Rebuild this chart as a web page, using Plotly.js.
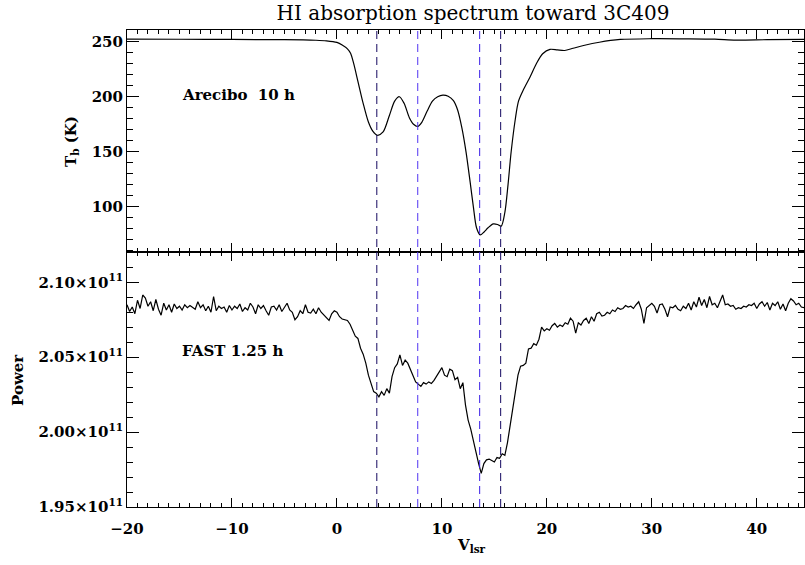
<!DOCTYPE html>
<html>
<head>
<meta charset="utf-8">
<script src="https://cdn.plot.ly/plotly-3.0.1.min.js"></script>
<style>html,body{margin:0;padding:0;background:#fff;}#chart{width:805px;height:565px;}</style>
</head>
<body>
<div id="chart"></div>
<script>
// ---- Data ----
// Arecibo spectrum (top panel): velocity (km/s) and brightness temperature (K)
const arecV = [-20, -15, -10, -5, -2, -1, 0, 0.5, 1.0, 1.3, 1.6, 2.0, 2.5, 3.0, 3.4, 3.85, 4.4, 5.0, 5.5, 5.95,
  6.4, 6.9, 7.3, 7.7, 8.1, 8.6, 9.1, 9.6, 10.1, 10.6, 11.1, 11.5, 11.9, 12.3, 12.7, 13.0, 13.3, 13.65, 14.0, 14.4,
  14.9, 15.3, 15.65, 16.0, 16.3, 16.6, 17.0, 17.3, 17.8, 18.4, 19.0, 19.6, 20.3, 21.0, 21.7, 22.5, 23.5, 25.0, 27.0, 30.0,
  33.0, 36.0, 38.0, 41.0, 44.5];
const arecTb = [252.3, 252.2, 252.0, 251.8, 251.3, 250.8, 249.3, 247, 243.5, 239.5, 230, 214, 194, 177, 169, 165, 168, 183, 196, 200,
  194, 181, 175, 173, 177, 187, 196, 200, 201.5, 200.5, 196.5, 188, 172, 150, 122, 100, 81, 74.5, 77, 81,
  84.5, 84, 82.5, 95, 120, 150, 180, 196, 207, 218, 230, 239, 243, 242.5, 242, 244, 246.5, 249.5, 252, 252.7,
  252.6, 252.3, 251.4, 251.8, 252];

// FAST spectrum (bottom panel): channels start at V0 with spacing DV; power in units of 1e11
const fastV0 = -20, fastDV = 0.25;
const fastPowerE11 = [
  // -20 .. -10.25
  2.0850, 2.0805, 2.0835, 2.0790, 2.0880, 2.0825, 2.0915, 2.0895, 2.0840, 2.0870,
  2.0810, 2.0885, 2.0820, 2.0780, 2.0860, 2.0815, 2.0850, 2.0800, 2.0855, 2.0825,
  2.0840, 2.0815, 2.0850, 2.0830, 2.0845, 2.0835, 2.0820, 2.0870, 2.0830, 2.0850,
  2.0810, 2.0840, 2.0800, 2.0905, 2.0810, 2.0840, 2.0825, 2.0835, 2.0800, 2.0845,
  // -10 .. -0.25
  2.0815, 2.0840, 2.0825, 2.0855, 2.0805, 2.0830, 2.0815, 2.0860, 2.0835, 2.0790,
  2.0850, 2.0825, 2.0845, 2.0810, 2.0780, 2.0835, 2.0840, 2.0815, 2.0850, 2.0805,
  2.0830, 2.0860, 2.0815, 2.0800, 2.0750, 2.0770, 2.0810, 2.0790, 2.0850, 2.0800,
  2.0795, 2.0820, 2.0790, 2.0830, 2.0800, 2.0780, 2.0760, 2.0745, 2.0790, 2.0810,
  // 0 .. 9.75
  2.0800, 2.0770, 2.0755, 2.0750, 2.0745, 2.0720, 2.0680, 2.0640, 2.0625, 2.0560,
  2.0520, 2.0460, 2.0380, 2.0330, 2.0270, 2.0260, 2.0235, 2.0270, 2.0245, 2.0290,
  2.0260, 2.0370, 2.0430, 2.0455, 2.0515, 2.0445, 2.0480, 2.0460, 2.0420, 2.0370,
  2.0335, 2.0320, 2.0305, 2.0330, 2.0320, 2.0335, 2.0325, 2.0345, 2.0375, 2.0400,
  // 10 .. 19.75
  2.0430, 2.0380, 2.0370, 2.0420, 2.0410, 2.0350, 2.0365, 2.0290, 2.0330, 2.0180,
  2.0080, 2.0020, 1.9940, 1.9860, 1.9790, 1.9725, 1.9790, 1.9815, 1.9820, 1.9810,
  1.9800, 1.9830, 1.9825, 1.9855, 1.9845, 1.9930, 2.0040, 2.0170, 2.0290, 2.0380,
  2.0440, 2.0445, 2.0460, 2.0555, 2.0560, 2.0590, 2.0580, 2.0620, 2.0700, 2.0675,
  // 20 .. 29.75
  2.0690, 2.0680, 2.0710, 2.0725, 2.0700, 2.0715, 2.0705, 2.0730, 2.0720, 2.0760,
  2.0740, 2.0660, 2.0730, 2.0715, 2.0745, 2.0760, 2.0725, 2.0770, 2.0740, 2.0790,
  2.0800, 2.0775, 2.0780, 2.0800, 2.0790, 2.0815, 2.0805, 2.0830, 2.0820, 2.0825,
  2.0845, 2.0835, 2.0840, 2.0825, 2.0850, 2.0870, 2.0820, 2.0725, 2.0830, 2.0845,
  // 30 .. 44.5
  2.0860, 2.0840, 2.0795, 2.0850, 2.0855, 2.0820, 2.0770, 2.0835, 2.0830, 2.0845,
  2.0820, 2.0810, 2.0840, 2.0825, 2.0860, 2.0815, 2.0870, 2.0835, 2.0900, 2.0845,
  2.0885, 2.0830, 2.0905, 2.0850, 2.0860, 2.0830, 2.0870, 2.0915, 2.0850, 2.0855,
  2.0840, 2.0845, 2.0820, 2.0830, 2.0825, 2.0840, 2.0835, 2.0850, 2.0845, 2.0860,
  2.0825, 2.0855, 2.0870, 2.0840, 2.0865, 2.0815, 2.0860, 2.0845, 2.0870, 2.0820,
  2.0855, 2.0810, 2.0860, 2.0890, 2.0875, 2.0850, 2.0860, 2.0835, 2.0830
];

// Component velocities marked by dashed lines
const compV = [3.8, 7.7, 13.6, 15.6];
const compColors = ['#140860', '#5034f2', '#3a1ee6', '#140860'];

// Tick labels
const xTickVals = [-20, -10, 0, 10, 20, 30, 40];
const tbTickVals = [100, 150, 200, 250];
const powTickVals = [1.95, 2.00, 2.05, 2.10];
const powTickText = ['1.95×10<sup>11</sup>', '2.00×10<sup>11</sup>', '2.05×10<sup>11</sup>', '2.10×10<sup>11</sup>'];

// ---- Build ----
const fastV = fastPowerE11.map((_, i) => fastV0 + i * fastDV);
const fastPower = fastPowerE11.map(p => p * 1e11);

const FONT = 'DejaVu Serif, Liberation Serif, serif';
const PL = 127, PR = 804, PT = 30, PB = 507, SPLIT = 252;
const W = 805, H = 565;
const splitFrac = (PB - SPLIT) / (PB - PT);
const px2xp = px => (px - PL) / (PR - PL);
const py2yp = py => (PB - py) / (PB - PT);

const traces = [
  { x: arecV, y: arecTb, xaxis: 'x2', yaxis: 'y2', type: 'scatter', mode: 'lines',
    line: { color: '#000', width: 1.2, shape: 'spline', smoothing: 0.8 }, hoverinfo: 'skip' },
  { x: fastV, y: fastPower, xaxis: 'x', yaxis: 'y', type: 'scatter', mode: 'lines',
    line: { color: '#000', width: 1.2 }, hoverinfo: 'skip' }
];

const TICKFONT = { family: FONT, size: 15, color: '#000', weight: 'bold' };
const axBase = {
  showgrid: false, zeroline: false, showline: true, linecolor: '#000', linewidth: 1,
  ticks: 'inside', tickcolor: '#000', tickwidth: 1, mirror: 'allticks',
  tickfont: TICKFONT
};

const shapes = compV.map((v, i) => ({
  type: 'line', xref: 'x', yref: 'paper', x0: v, x1: v, y0: 0, y1: 1,
  line: { color: compColors[i], width: 1, dash: '8px,5px' }, layer: 'above'
}));

const ann = (text, x, y, opts) => Object.assign({
  text, xref: 'paper', yref: 'paper', x: px2xp(x), y: py2yp(y), showarrow: false,
  font: { family: FONT, size: 15, color: '#000', weight: 'bold' }
}, opts || {});

const layout = {
  width: W, height: H,
  margin: { l: PL, r: W - PR, t: PT, b: H - PB, pad: 0 },
  paper_bgcolor: '#fff', plot_bgcolor: '#fff',
  showlegend: false,
  title: { text: 'HI absorption spectrum toward 3C409', font: { family: FONT, size: 20, color: '#000' },
           x: 473 / W, xanchor: 'center', y: 1 - 13 / H, yanchor: 'middle' },
  xaxis: Object.assign({}, axBase, {
    range: [-20, 44.5], anchor: 'y', tickvals: xTickVals, ticklen: 9,
    minor: { dtick: 1, ticklen: 4, ticks: 'inside', tickcolor: '#000' },
    ticklabelstandoff: 8
  }),
  xaxis2: Object.assign({}, axBase, {
    range: [-20, 44.5], anchor: 'y2', matches: 'x', tickvals: xTickVals, ticklen: 9, showticklabels: false,
    minor: { dtick: 1, ticklen: 4, ticks: 'inside', tickcolor: '#000' }
  }),
  yaxis: Object.assign({}, axBase, {
    domain: [0, splitFrac], range: [1.95e11, 2.1202e11],
    tickvals: powTickVals.map(v => v * 1e11), ticktext: powTickText, ticklen: 12,
    minor: { dtick: 0.01e11, ticklen: 6, ticks: 'inside', tickcolor: '#000' }
  }),
  yaxis2: Object.assign({}, axBase, {
    domain: [splitFrac, 1], range: [59, 260.6], tickvals: tbTickVals, ticklen: 12,
    minor: { dtick: 10, ticklen: 6, ticks: 'inside', tickcolor: '#000' }
  }),
  shapes,
  annotations: [
    ann('Arecibo&nbsp;&nbsp;10 h', 180, 95, { xanchor: 'left', yanchor: 'middle' }),
    ann('FAST 1.25 h', 180, 351, { xanchor: 'left', yanchor: 'middle' }),
    ann('T<sub>b</sub> (K)', 71, 142, { textangle: -90, xanchor: 'center', yanchor: 'middle' }),
    ann('Power', 18, 380, { textangle: -90, xanchor: 'center', yanchor: 'middle' }),
    ann('V<sub>lsr</sub>', 471, 545, { xanchor: 'center', yanchor: 'middle' })
  ]
};

Plotly.newPlot('chart', traces, layout, { staticPlot: true, displayModeBar: false });
</script>
</body>
</html>
